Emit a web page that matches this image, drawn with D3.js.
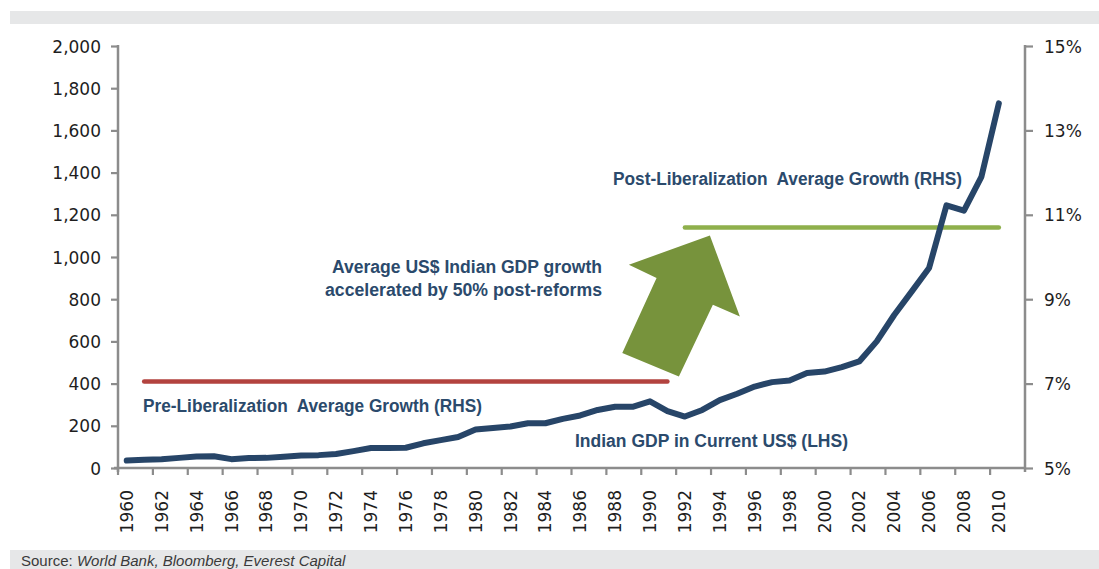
<!DOCTYPE html>
<html>
<head>
<meta charset="utf-8">
<title>Indian GDP in Current US$</title>
<script src="https://cdn.jsdelivr.net/npm/d3@7"></script>
<style>
    body { margin: 0; background: #fff; }
    svg { display: block; }
</style>
</head>
<body>
<div id="chart"></div>
<script>
// data
var years = d3.range(1960, 2012).map(String);   // 2011 slot is empty on the axis
var gdpYears = d3.range(1960, 2011).map(String);
var gdp = [35, 39, 41, 48, 55, 56, 42, 47, 48, 53,
           59, 61, 66, 80, 95, 95, 96, 117, 132, 147,
           182, 190, 197, 212, 212, 233, 249, 275, 290, 290,
           316, 270, 244, 275, 322, 352, 386, 407, 415, 450,
           457, 478, 505, 600, 725, 836, 948, 1245, 1220, 1380,
           1728];
var leftTicks = [0, 200, 400, 600, 800, 1000, 1200, 1400, 1600, 1800, 2000];
var rightTicks = [5, 7, 9, 11, 13, 15];
var preAvg = { from: "1961", to: "1991", value: 7.05 };
var postAvg = { from: "1992", to: "2010", value: 10.7 };

var W = 1099, H = 569;
// plot edges (note: "top" is reserved on window, so use a prefix)
var pLeft = 118, pRight = 1025, pTop = 46, pBottom = 468;

var navy = "#274568", textBlue = "#2b4a6c", axisGrey = "#8c8c8c";

var svg = d3.select("#chart").append("svg")
    .attr("width", W).attr("height", H);

// grey bands top and bottom
svg.append("rect").attr("x", 10).attr("y", 11).attr("width", W - 10).attr("height", 13)
    .attr("fill", "#e6e7e8");
svg.append("rect").attr("x", 10).attr("y", 550).attr("width", W - 10).attr("height", 19)
    .attr("fill", "#e6e7e8");

var src = svg.append("text").attr("x", 21).attr("y", 566)
    .style("font-family", "Liberation Sans, Arial, sans-serif")
    .style("font-size", "15px").attr("fill", "#3a3a3a");
src.append("tspan").text("Source: ");
src.append("tspan").style("font-style", "italic").text("World Bank, Bloomberg, Everest Capital");

// scales
var x = d3.scaleBand().domain(years).range([pLeft, pRight]).padding(0);
var cx = function (d) { return x(d) + x.bandwidth() / 2; };
var yL = d3.scaleLinear().domain([0, 2000]).range([pBottom, pTop]);
var yR = d3.scaleLinear().domain([5, 15]).range([pBottom, pTop]);

var tickFont = "DejaVu Sans, Verdana, sans-serif";

// left axis
var gL = svg.append("g").attr("transform", "translate(" + pLeft + ",0)")
    .call(d3.axisLeft(yL).tickValues(leftTicks).tickFormat(d3.format(","))
        .tickSize(7).tickPadding(10));
// right axis
var gR = svg.append("g").attr("transform", "translate(" + pRight + ",0)")
    .call(d3.axisRight(yR).tickValues(rightTicks).tickFormat(function (d) { return d + "%"; })
        .tickSize(8).tickPadding(11));

[gL, gR].forEach(function (g) {
    g.select(".domain").attr("stroke", axisGrey).attr("stroke-width", 2.5)
        .attr("d", "M0," + (pTop - 1) + "V" + (pBottom + 4));
    g.selectAll(".tick line").attr("stroke", axisGrey).attr("stroke-width", 2.2);
    g.selectAll(".tick text").attr("fill", "#1e1e1e").attr("dy", "0.36em")
        .style("font-family", tickFont).style("font-size", "17px");
});

// bottom axis: ticks between categories every 2 years, labels centred
var evenYears = years.filter(function (d) { return +d % 2 === 0; });
var gB = svg.append("g");
gB.append("line").attr("x1", pLeft - 4).attr("x2", pRight)
    .attr("y1", pBottom).attr("y2", pBottom)
    .attr("stroke", axisGrey).attr("stroke-width", 2.5);
gB.selectAll("line.tk").data(evenYears).enter().append("line").attr("class", "tk")
    .attr("x1", function (d) { return x(d); }).attr("x2", function (d) { return x(d); })
    .attr("y1", pBottom).attr("y2", pBottom + 7)
    .attr("stroke", axisGrey).attr("stroke-width", 2.2);
gB.selectAll("text").data(evenYears).enter()
    .append("text")
    .attr("transform", function (d) { return "translate(" + cx(d) + "," + 490 + ") rotate(-90)"; })
    .attr("text-anchor", "end").attr("dy", "0.36em")
    .attr("fill", "#1e1e1e")
    .style("font-family", tickFont).style("font-size", "17px")
    .text(function (d) { return d; });

// average growth lines (RHS)
function avgLine(a, color) {
    svg.append("line")
        .attr("x1", cx(a.from)).attr("x2", cx(a.to))
        .attr("y1", yR(a.value)).attr("y2", yR(a.value))
        .attr("stroke", color).attr("stroke-width", 4.5).attr("stroke-linecap", "round");
}
avgLine(preAvg, "#b3433f");
avgLine(postAvg, "#8fb04c");

// block arrow, anchored just under the start of the post-reform line
var tipX = cx(postAvg.from) + 25, tipY = yR(postAvg.value) + 8;
var arrow = [[0, 0], [30, 81], [3, 69.3], [-31, 141], [-87.6, 117.6], [-53.3, 42.6], [-81, 29.3]];
svg.append("polygon")
    .attr("points", arrow.map(function (p) { return (tipX + p[0]) + "," + (tipY + p[1]); }).join(" "))
    .attr("fill", "#77933c");

// GDP line (LHS)
var line = d3.line()
    .x(function (d, i) { return cx(gdpYears[i]); })
    .y(function (d) { return yL(d); });
svg.append("path").datum(gdp)
    .attr("d", line)
    .attr("fill", "none").attr("stroke", navy).attr("stroke-width", 6)
    .attr("stroke-linejoin", "round").attr("stroke-linecap", "round");

// annotations
var annFont = "Liberation Sans Narrow, Arial Narrow, Liberation Sans, Arial, sans-serif";
function note(txt, xx, yy, len, anchor) {
    svg.append("text").attr("x", xx).attr("y", yy)
        .attr("text-anchor", anchor || "start")
        .attr("textLength", len).attr("lengthAdjust", "spacingAndGlyphs")
        .style("white-space", "pre")
        .style("font-family", annFont).style("font-weight", "bold").style("font-size", "18px")
        .attr("fill", textBlue)
        .text(txt);
}
note("Post-Liberalization  Average Growth (RHS)", 613, 185, 349);
note("Pre-Liberalization  Average Growth (RHS)", 143, 411.5, 339);
note("Indian GDP in Current US$ (LHS)", 575, 447, 273);
note("Average US$ Indian GDP growth", 602, 273, 270, "end");
note("accelerated by 50% post-reforms", 602, 296, 277, "end");
</script>
</body>
</html>
